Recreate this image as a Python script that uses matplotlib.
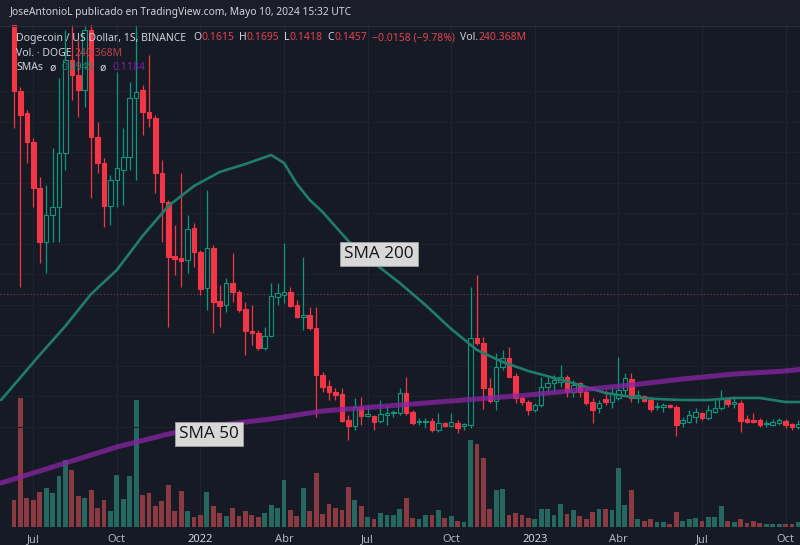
import numpy as np
import pandas as pd
import matplotlib
matplotlib.use('Agg')
import matplotlib.pyplot as plt
import matplotlib.dates as mdates
from matplotlib.patches import Rectangle
from matplotlib.lines import Line2D

W, H = 800, 545
BG = '#161a25'
HEAD_BG = '#1b1e29'
UP = '#089981'
DOWN = '#f23645'
VOL_UP = '#25685f'
VOL_DOWN = '#8a3a40'
TXT = '#d1d4dc'
AXIS_TXT = '#b2b5be'
FONT = ['Noto Sans', 'DejaVu Sans']

# weekly DOGE/USD candles, first week 2021-06-14
start = pd.Timestamp('2021-06-14')
opens = [0.478, 0.409, 0.387, 0.358, 0.312, 0.258, 0.285, 0.293, 0.347, 0.440,
         0.425, 0.410, 0.470, 0.363, 0.337, 0.294, 0.320, 0.330, 0.343, 0.402,
         0.410, 0.388, 0.382, 0.327, 0.298, 0.244, 0.242, 0.240, 0.272, 0.248,
         0.212, 0.252, 0.199, 0.195, 0.217, 0.208, 0.191, 0.169, 0.167, 0.152,
         0.164, 0.203, 0.205, 0.208, 0.195, 0.183, 0.185, 0.172, 0.125, 0.114,
         0.108, 0.106, 0.080, 0.074, 0.093, 0.084, 0.084, 0.079, 0.085, 0.087,
         0.087, 0.107, 0.088, 0.078, 0.078, 0.079, 0.070, 0.077, 0.074, 0.077,
         0.074, 0.075, 0.162, 0.157, 0.112, 0.099, 0.133, 0.142, 0.124, 0.102,
         0.098, 0.090, 0.095, 0.113, 0.117, 0.118, 0.123, 0.108, 0.117, 0.108,
         0.098, 0.092, 0.101, 0.098, 0.102, 0.110, 0.121, 0.102, 0.104, 0.100,
         0.093, 0.093, 0.095, 0.093, 0.077, 0.078, 0.083, 0.087, 0.082, 0.088,
         0.092, 0.102, 0.096, 0.097, 0.081, 0.080, 0.080, 0.076, 0.075, 0.077,
         0.079, 0.076, 0.073]
highs = [0.482, 0.413, 0.390, 0.362, 0.323, 0.315, 0.352, 0.422, 0.470, 0.475,
         0.460, 0.475, 0.478, 0.378, 0.342, 0.325, 0.428, 0.372, 0.418, 0.475,
         0.415, 0.445, 0.385, 0.340, 0.300, 0.275, 0.327, 0.285, 0.277, 0.250,
         0.310, 0.255, 0.215, 0.222, 0.247, 0.210, 0.198, 0.195, 0.170, 0.173,
         0.217, 0.217, 0.257, 0.213, 0.200, 0.243, 0.193, 0.193, 0.128, 0.120,
         0.112, 0.112, 0.085, 0.102, 0.103, 0.095, 0.085, 0.100, 0.095, 0.090,
         0.112, 0.123, 0.090, 0.082, 0.082, 0.082, 0.087, 0.078, 0.087, 0.080,
         0.077, 0.213, 0.225, 0.163, 0.122, 0.147, 0.150, 0.153, 0.127, 0.104,
         0.100, 0.097, 0.123, 0.123, 0.125, 0.135, 0.125, 0.120, 0.118, 0.112,
         0.102, 0.100, 0.110, 0.113, 0.143, 0.127, 0.127, 0.110, 0.105, 0.102,
         0.098, 0.097, 0.096, 0.095, 0.083, 0.090, 0.092, 0.088, 0.095, 0.100,
         0.110, 0.103, 0.102, 0.100, 0.085, 0.087, 0.082, 0.080, 0.081, 0.082,
         0.081, 0.077, 0.080]
lows = [0.372, 0.213, 0.337, 0.293, 0.237, 0.227, 0.258, 0.258, 0.330, 0.400,
        0.383, 0.393, 0.302, 0.327, 0.273, 0.275, 0.293, 0.295, 0.330, 0.320,
        0.365, 0.373, 0.307, 0.258, 0.173, 0.225, 0.213, 0.227, 0.233, 0.205,
        0.190, 0.167, 0.173, 0.188, 0.198, 0.188, 0.145, 0.155, 0.150, 0.150,
        0.163, 0.195, 0.197, 0.193, 0.182, 0.170, 0.170, 0.083, 0.108, 0.100,
        0.100, 0.078, 0.060, 0.070, 0.075, 0.083, 0.070, 0.077, 0.075, 0.083,
        0.085, 0.085, 0.075, 0.075, 0.072, 0.068, 0.068, 0.073, 0.073, 0.067,
        0.070, 0.072, 0.155, 0.091, 0.097, 0.090, 0.130, 0.123, 0.097, 0.095,
        0.085, 0.088, 0.093, 0.107, 0.107, 0.113, 0.103, 0.103, 0.103, 0.095,
        0.077, 0.087, 0.095, 0.092, 0.100, 0.105, 0.098, 0.097, 0.098, 0.088,
        0.090, 0.088, 0.092, 0.064, 0.073, 0.077, 0.077, 0.080, 0.080, 0.087,
        0.090, 0.093, 0.092, 0.068, 0.077, 0.077, 0.073, 0.073, 0.074, 0.075,
        0.072, 0.070, 0.071]
closes = [0.409, 0.385, 0.358, 0.312, 0.258, 0.285, 0.293, 0.347, 0.440, 0.425,
          0.410, 0.470, 0.363, 0.337, 0.294, 0.320, 0.332, 0.343, 0.402, 0.408,
          0.388, 0.382, 0.327, 0.298, 0.243, 0.241, 0.239, 0.271, 0.248, 0.211,
          0.252, 0.198, 0.194, 0.217, 0.208, 0.190, 0.169, 0.167, 0.152, 0.164,
          0.204, 0.207, 0.208, 0.194, 0.183, 0.185, 0.172, 0.125, 0.113, 0.108,
          0.105, 0.079, 0.074, 0.093, 0.084, 0.086, 0.078, 0.086, 0.087, 0.088,
          0.107, 0.087, 0.077, 0.079, 0.079, 0.070, 0.077, 0.074, 0.078, 0.072,
          0.076, 0.162, 0.157, 0.112, 0.099, 0.133, 0.142, 0.123, 0.102, 0.098,
          0.090, 0.095, 0.113, 0.117, 0.120, 0.123, 0.108, 0.115, 0.108, 0.097,
          0.090, 0.097, 0.098, 0.107, 0.110, 0.122, 0.102, 0.105, 0.099, 0.091,
          0.094, 0.095, 0.093, 0.075, 0.080, 0.085, 0.088, 0.082, 0.090, 0.092,
          0.102, 0.096, 0.098, 0.079, 0.078, 0.078, 0.075, 0.077, 0.078, 0.080,
          0.075, 0.073, 0.076]
# weekly volume, billions DOGE
volume = [2.7, 12.9, 2.9, 2.7, 3.5, 3.9, 3.4, 5.1, 6.7, 5.7,
          3.1, 2.9, 3.7, 1.9, 2.7, 1.6, 5.2, 2.8, 5.1, 12.7,
          3.2, 3.4, 2.1, 2.6, 4.2, 1.6, 3.6, 1.6, 1.0, 1.2,
          3.5, 2.1, 1.4, 1.1, 1.9, 1.1, 1.6, 1.2, 1.0, 1.4,
          2.2, 1.9, 4.7, 1.7, 1.1, 3.9, 1.6, 5.4, 1.3, 2.3,
          1.9, 1.7, 4.0, 2.7, 2.1, 1.0, 0.8, 1.4, 1.2, 1.2,
          1.8, 2.9, 0.9, 0.8, 1.2, 1.2, 1.7, 0.9, 1.1, 0.6,
          0.5, 8.7, 8.3, 6.9, 1.8, 3.7, 3.8, 1.2, 1.4, 1.2,
          0.9, 0.8, 1.8, 1.8, 1.2, 2.3, 1.3, 1.7, 1.1, 0.8,
          1.5, 1.8, 1.8, 1.7, 5.9, 2.2, 3.7, 0.8, 0.6, 0.8,
          0.5, 0.5, 0.3, 1.5, 0.6, 0.8, 0.9, 0.6, 1.0, 1.0,
          2.1, 0.6, 0.5, 0.8, 0.4, 0.6, 0.4, 0.3, 0.3, 0.3,
          0.3, 0.3, 0.5]

# moving averages, read every few weeks (week offset from start)
sma200_weeks = [-2, 0, 4, 8, 12, 16, 20, 24, 28, 32, 36, 40, 42, 44, 46, 48, 52,
                56, 60, 64, 68, 72, 76, 80, 84, 88, 92, 96, 100, 104, 108, 112,
                116, 120, 123]
sma200 = [0.100, 0.115, 0.145, 0.174, 0.206, 0.230, 0.264, 0.294, 0.314, 0.328,
          0.336, 0.345, 0.337, 0.316, 0.300, 0.288, 0.259, 0.237, 0.217, 0.195,
          0.171, 0.150, 0.138, 0.129, 0.122, 0.115, 0.107, 0.103, 0.101, 0.100,
          0.100, 0.102, 0.102, 0.098, 0.098]
sma50_weeks = [-2, 0, 8, 16, 24, 32, 40, 48, 56, 64, 72, 80, 88, 96, 104, 112,
               120, 123]
sma50 = [0.017, 0.021, 0.037, 0.053, 0.066, 0.075, 0.081, 0.089, 0.093, 0.097,
         0.101, 0.105, 0.110, 0.115, 0.121, 0.126, 0.129, 0.131]

tick_months = ['2021-07', '2021-10', '2022-01', '2022-04', '2022-07',
               '2022-10', '2023-01', '2023-04', '2023-07', '2023-10']
tick_labels = ['Jul', 'Oct', '2022', 'Abr', 'Jul', 'Oct', '2023', 'Abr', 'Jul', 'Oct']

o = np.array(opens); h = np.array(highs); l = np.array(lows); c = np.array(closes)
dates = pd.date_range(start, periods=len(c), freq='7D')
x = mdates.date2num(dates)
up = c >= o

fig = plt.figure(figsize=(W / 100, H / 100), dpi=100, facecolor=BG)
fig.patches.append(Rectangle((0, 1 - 25 / H), 1, 25 / H, transform=fig.transFigure,
                             facecolor=HEAD_BG, edgecolor='none'))
fig.lines.append(Line2D([0, 1], [1 - 25.5 / H] * 2, transform=fig.transFigure,
                        color='#2a2e39', lw=0.8))

rect = [0, 18 / H, 1, 502 / H]
axv = fig.add_axes(rect)
ax = fig.add_axes(rect, sharex=axv)
axv.set_facecolor(BG)
ax.patch.set_visible(False)

# volume pane
axv.bar(x, volume, width=5.2, color=np.where(up, VOL_UP, VOL_DOWN), zorder=2)
axv.set_ylim(0, 50.2)

# candles: hollow up, filled down
col = np.where(up, UP, DOWN)
ax.vlines(x, l, h, colors=col, lw=0.9, zorder=3)
body = np.maximum(np.abs(c - o), 0.0015)
ax.bar(x, body, bottom=np.minimum(o, c), width=4.9,
       color=np.where(up, BG, DOWN), edgecolor=col, linewidth=0.8, zorder=4)

sx200 = mdates.date2num(start + pd.to_timedelta(np.array(sma200_weeks) * 7, unit='D'))
sx50 = mdates.date2num(start + pd.to_timedelta(np.array(sma50_weeks) * 7, unit='D'))
ax.plot(sx200, sma200, color='#1e7d6b', lw=1.9, zorder=5, solid_capstyle='round',
        solid_joinstyle='round')
ax.plot(sx50, sma50, color='#8a24a6', lw=3.6, alpha=0.75, zorder=5,
        solid_capstyle='round')

ax.axhline(0.206, color='#6e4650', lw=0.8, ls=(0, (1, 2)), zorder=1)
for lvl in np.arange(0.0735, 0.42, 0.0305):
    ax.axhline(lvl, color='#1d212c', lw=0.8, zorder=0.5)

x0 = mdates.date2num(start)
ax.set_xlim(x0 - 15.2, x0 + 855.7)
ax.set_ylim(-0.027, 0.475)

ticks = []
for m in tick_months:
    ms = pd.Timestamp(m + '-01')
    ticks.append(mdates.date2num(dates[dates >= ms][0]))
for t in ticks:
    axv.axvline(t, color='#212531', lw=0.8, zorder=0.5)

for a in (ax, axv):
    for s in a.spines.values():
        s.set_visible(False)
    a.set_yticks([])
axv.tick_params(axis='x', labelbottom=False, length=0)
ax.set_xticks(ticks)
ax.set_xticklabels(tick_labels)
ax.tick_params(axis='x', length=0, pad=5, labelcolor=AXIS_TXT, labelsize=8)
for lab in ax.get_xticklabels():
    lab.set_family(FONT)
    if lab.get_text().startswith('20'):
        lab.set_fontweight('bold')
        lab.set_color(TXT)

# header and legend text
fig.text(10 / W, 1 - 13 / H, 'JoseAntonioL publicado en TradingView.com, Mayo 10, 2024 15:32 UTC',
         color=TXT, fontsize=7.4, va='center', ha='left', family=FONT)

renderer = fig.canvas.get_renderer()


def text_row(y_px, parts, x_px=16, size=7.5):
    for s, colr, gap in parts:
        t = fig.text(x_px / W, 1 - y_px / H, s, color=colr, fontsize=size,
                     va='center', ha='left', family=FONT, zorder=10)
        x_px = t.get_window_extent(renderer).x1 + gap


RED = '#e0424f'
text_row(38, [('Dogecoin / US Dollar, 1S, BINANCE', TXT, 7),
              ('O', TXT, 0), ('0.1615', RED, 5), ('H', TXT, 0), ('0.1695', RED, 5),
              ('L', TXT, 0), ('0.1418', RED, 5), ('C', TXT, 0), ('0.1457', RED, 5),
              ('\u22120.0158 (\u22129.78%)', RED, 5), ('Vol.', TXT, 0),
              ('240.368M', RED, 0)])
text_row(53, [('Vol. \u00b7 DOGE', TXT, 3), ('240.368M', '#b8424f', 0)])
text_row(68, [('SMAs', TXT, 6), ('\u00f8', TXT, 6), ('0.0945', '#1e8c7a', 6),
              ('\u00f8', TXT, 6), ('0.1184', '#7b1fa2', 0)])

box = dict(boxstyle='square,pad=0.24', facecolor='#d8d8d8', edgecolor='#a0a0a0', lw=0.6)
fig.text(379 / W, 1 - 254 / H, 'SMA 200', fontsize=12.3, color='#141414',
         ha='center', va='center', family=['Open Sans', 'DejaVu Sans'], bbox=box, zorder=10)
fig.text(209 / W, 1 - 434 / H, 'SMA 50', fontsize=12.3, color='#141414',
         ha='center', va='center', family=['Open Sans', 'DejaVu Sans'], bbox=box, zorder=10)

fig.savefig('out.png', dpi=100, facecolor=BG)
